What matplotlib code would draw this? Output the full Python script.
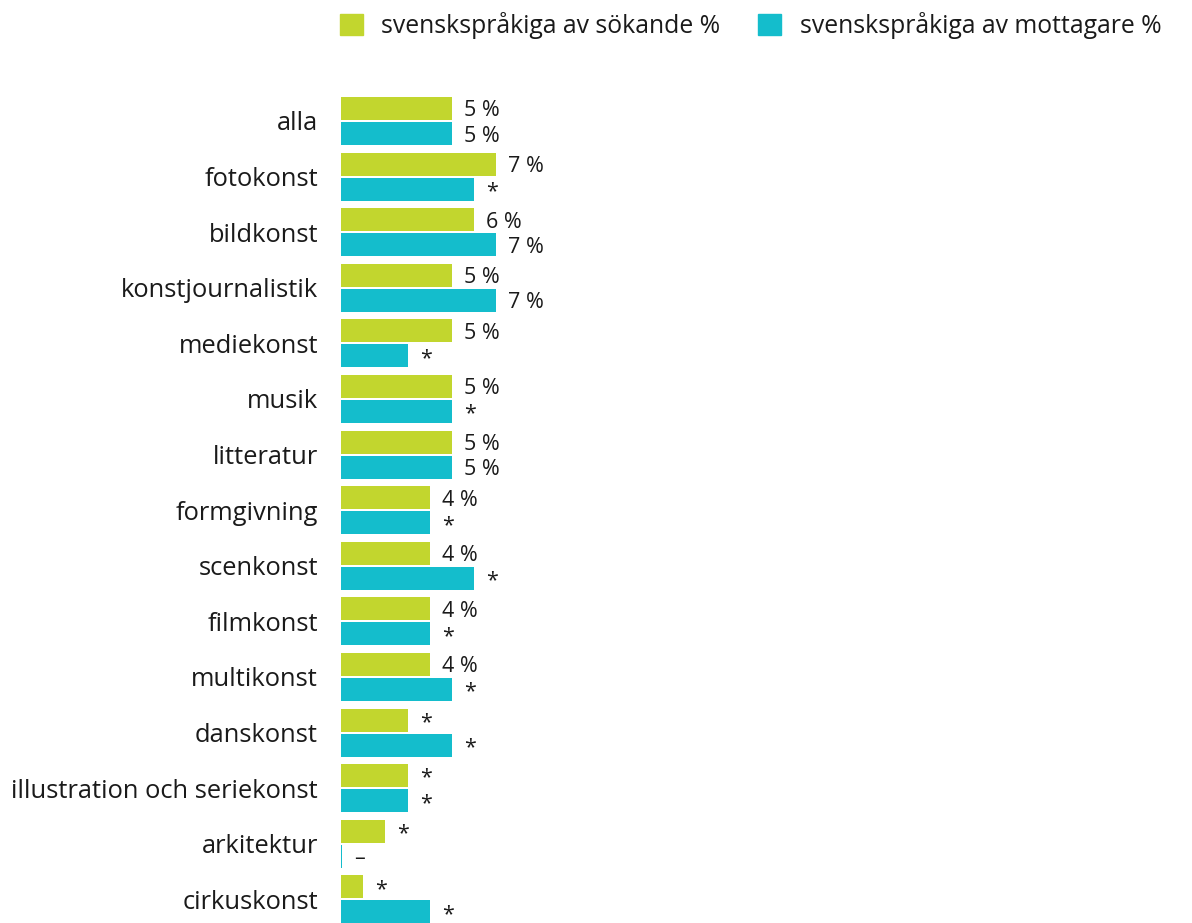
import numpy as np
import matplotlib.pyplot as plt
from matplotlib.patches import Patch

plt.rcParams['font.family'] = ['Open Sans', 'DejaVu Sans']

categories = ['alla', 'fotokonst', 'bildkonst', 'konstjournalistik', 'mediekonst',
              'musik', 'litteratur', 'formgivning', 'scenkonst', 'filmkonst',
              'multikonst', 'danskonst', 'illustration och seriekonst',
              'arkitektur', 'cirkuskonst']
sokande = [5, 7, 6, 5, 5, 5, 5, 4, 4, 4, 4, 3, 3, 2, 1]
mottagare = [5, 6, 7, 7, 3, 5, 5, 4, 6, 4, 5, 5, 3, 0.05, 4]
sokande_labels = ['5 %', '7 %', '6 %', '5 %', '5 %', '5 %', '5 %', '4 %', '4 %',
                  '4 %', '4 %', '*', '*', '*', '*']
mottagare_labels = ['5 %', '*', '7 %', '7 %', '*', '*', '5 %', '*', '*',
                    '*', '*', '*', '*', '–', '*']

green = '#c2d62e'
blue = '#14bdcc'
textc = '#1a1a1a'

fig = plt.figure(figsize=(11.92, 9.23), dpi=100)
ax = fig.add_axes([341 / 1192, 0, 1 - 341 / 1192, 1 - 80 / 923])

y = np.arange(len(categories))
h = 0.415
ax.barh(y - h / 2 - 0.018, sokande, height=h, color=green)
ax.barh(y + h / 2 + 0.018, mottagare, height=h, color=blue)

for i in range(len(categories)):
    ax.annotate(sokande_labels[i], (sokande[i], y[i] - h / 2 - 0.018),
                xytext=(12, 0), textcoords='offset pixels',
                va='center_baseline', ha='left', fontsize=15.5, color=textc)
    ax.annotate(mottagare_labels[i], (mottagare[i], y[i] + h / 2 + 0.018),
                xytext=(12, 0), textcoords='offset pixels',
                va='center_baseline', ha='left', fontsize=15.5, color=textc)

pitch = 55.6
ax.set_xlim(0, (1192 - 341) / 22.2)
ax.set_ylim((923 - 121) / pitch, -(121 - 80) / pitch)
ax.set_yticks(y)
ax.set_yticklabels(categories, fontsize=18.4, color=textc)
ax.set_xticks([])
ax.tick_params(axis='y', length=0, pad=16.5)
for s in ax.spines.values():
    s.set_visible(False)

handles = [Patch(color=green, label='svenskspråkiga av sökande %'),
           Patch(color=blue, label='svenskspråkiga av mottagare %')]
fig.legend(handles=handles, loc='upper right', bbox_to_anchor=(0.993, 1.011),
           ncol=2, frameon=False, fontsize=17.8, handlelength=0.92, handleheight=0.92,
           columnspacing=1.55, handletextpad=0.75, labelcolor=textc)

fig.savefig('out.png', dpi=100)
